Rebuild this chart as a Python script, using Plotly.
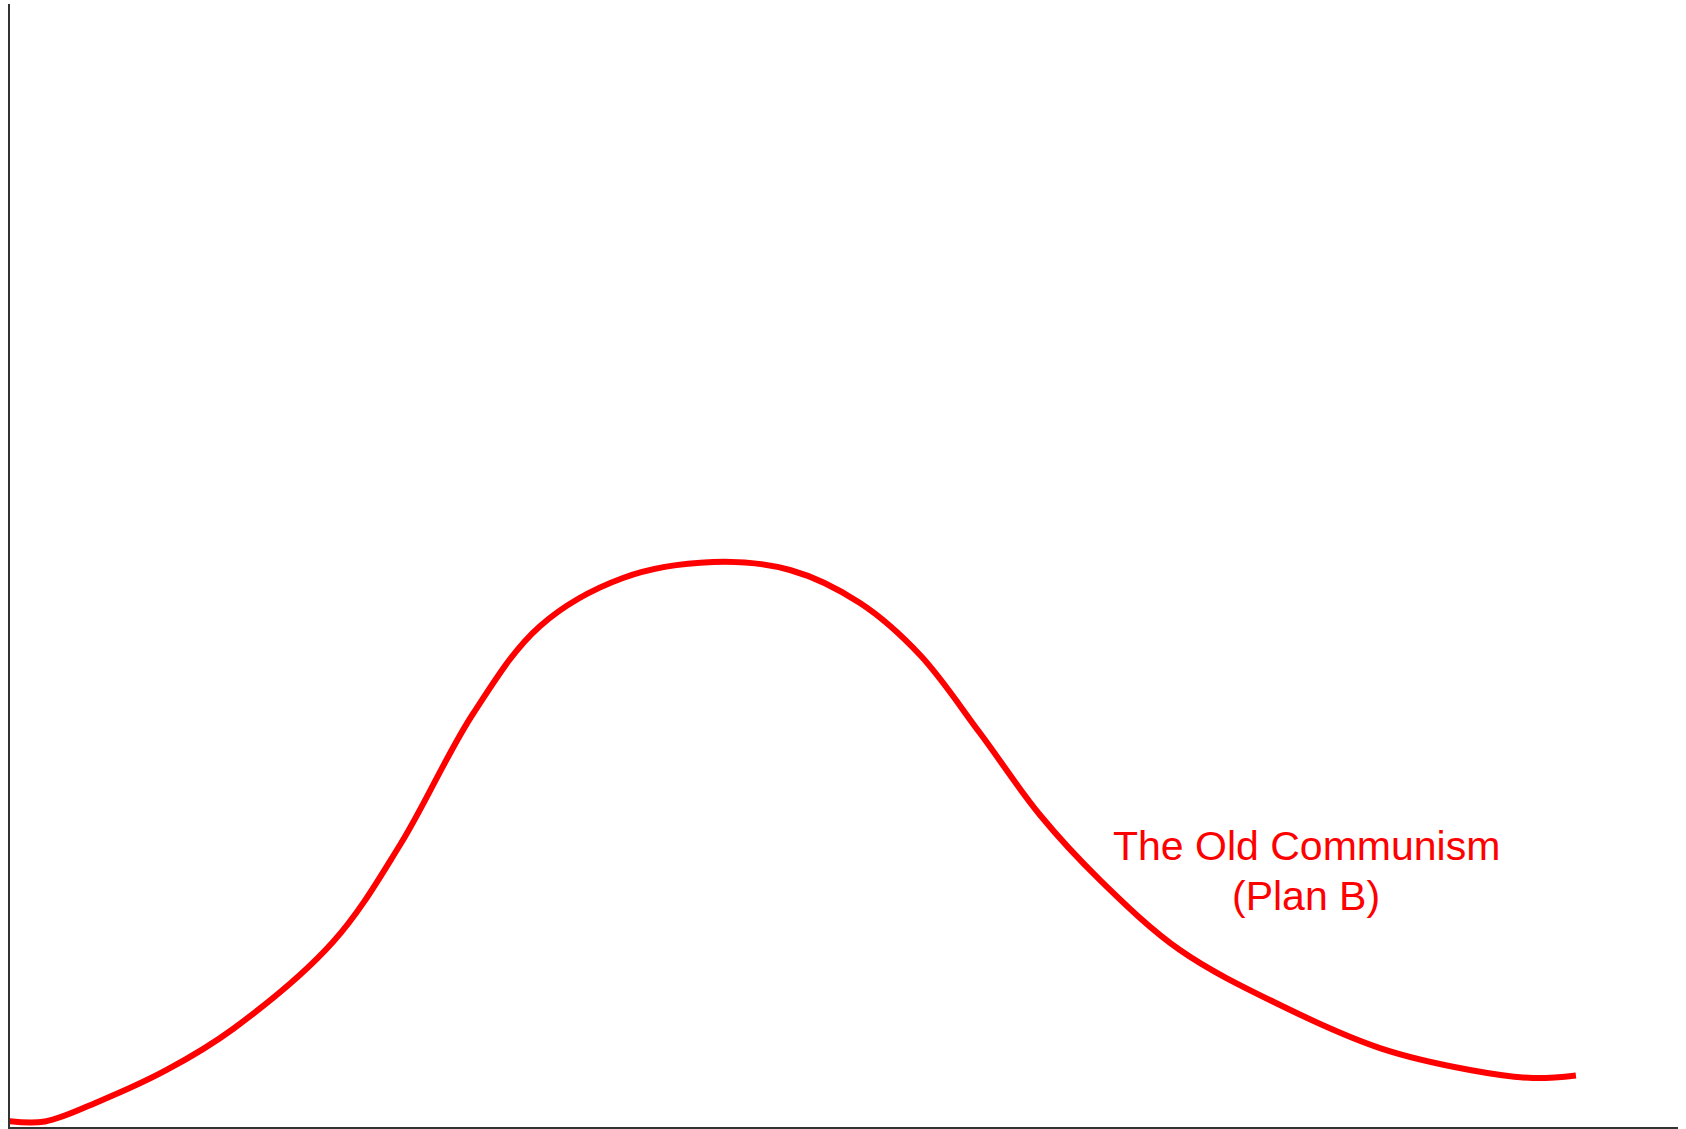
import plotly.graph_objects as go

# Curve (x and y in 0-100 axis units)
curve_x = [-0.12, 2.10, 5.40, 9.39, 13.37, 19.36, 23.38, 27.76, 31.77, 36.75,
           42.15, 46.76, 50.96, 54.56, 58.15, 61.75, 65.35, 70.14, 76.14, 82.13,
           87.53, 91.31, 93.88]
curve_y = [0.53, 0.49, 2.32, 5.08, 8.73, 16.47, 25.11, 36.80, 44.60, 48.89,
           50.31, 49.60, 46.66, 42.03, 35.08, 27.78, 21.99, 15.76, 10.86, 7.03,
           5.08, 4.36, 4.59]
label_lines = ["The Old Communism", "(Plan B)"]
label_x = 77.7
label_y = [25.0, 20.6]

fig = go.Figure()
fig.add_trace(go.Scatter(
    x=curve_x, y=curve_y, mode="lines",
    line=dict(color="#ff0000", width=6, shape="spline", smoothing=1.0,
              simplify=False),
    hoverinfo="skip", showlegend=False,
))

for txt, ly in zip(label_lines, label_y):
    fig.add_annotation(
        x=label_x, y=ly, xref="x", yref="y", text=txt, showarrow=False,
        xanchor="center", yanchor="middle",
        font=dict(family="Liberation Sans, Arial, sans-serif", size=41, color="#ff0000"),
    )

axis_common = dict(showgrid=False, zeroline=False, showticklabels=False, ticks="",
                   showline=True, linecolor="#333333", linewidth=2, mirror=False,
                   fixedrange=True)
fig.update_xaxes(range=[0, 100], **axis_common)
fig.update_yaxes(range=[0, 100], **axis_common)

fig.update_layout(
    width=1686, height=1129,
    margin=dict(l=10, r=8, t=4, b=2),
    paper_bgcolor="white", plot_bgcolor="white",
    showlegend=False,
)

fig.write_html(
    "out.html",
    config={"displayModeBar": False, "staticPlot": True},
    post_script="document.body.style.margin='0px';document.body.style.overflow='hidden';",
)
